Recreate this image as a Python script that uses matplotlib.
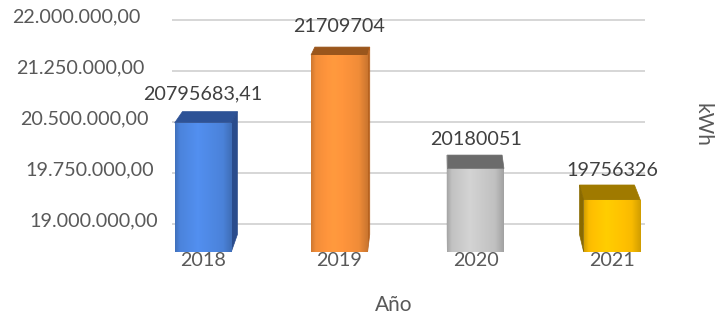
import numpy as np
import matplotlib
matplotlib.use("Agg")
import matplotlib.pyplot as plt
from matplotlib.patches import Polygon
from matplotlib.transforms import ScaledTranslation
from matplotlib.colors import to_rgb

plt.rcParams['font.family'] = ['Lato', 'DejaVu Sans']

# ---- data ----
years = ['2018', '2019', '2020', '2021']
consumo_kwh = [20795683.41, 21709704, 20180051, 19756326]
y_ticks = [19000000, 19750000, 20500000, 21250000, 22000000]

front_colors = ['#4D86E0', '#F7903A', '#C6C6C6', '#FFC000']
top_colors = ['#2D5296', '#9A561C', '#6B6B6B', '#A07A00']
side_colors = ['#2A4C8C', '#B8621E', '#808080', '#8A6A00']

W, H = 717, 321
fig = plt.figure(figsize=(W / 100, H / 100), dpi=100)
fig.patch.set_facecolor('white')


def box(l, t, r, b):
    return [l / W, 1 - b / H, (r - l) / W, (b - t) / H]


pos = box(172, 10, 645, 252)

# back wall: gridlines and value labels
ax_back = fig.add_axes(pos)
ax_back.set_ylim(18.588e6, 22.147e6)
ax_back.set_xlim(0, 1)
for s in ax_back.spines.values():
    s.set_visible(False)
ax_back.set_xticks([])
ax_back.set_yticks(y_ticks)
ax_back.tick_params(axis='y', length=0, labelleft=False)
ax_back.grid(axis='y', color='#D6D6D6', lw=1.4)


def fmt_es(v):
    s = f"{v:,.2f}"
    return s.replace(',', '_').replace('.', ',').replace('_', '.')


for v in y_ticks:
    right_px = 158 - 6 * (v - y_ticks[0]) / 1e6
    off = ScaledTranslation((right_px - 172) / 100, 3 / 100, fig.dpi_scale_trans)
    ax_back.text(0, v, fmt_es(v), transform=ax_back.get_yaxis_transform() + off,
                 ha='right', va='center', fontsize=14.2, color='#595959')

# front plane: the columns
ax = fig.add_axes(pos)
ax.set_facecolor('none')
for s in ax.spines.values():
    s.set_visible(False)
x = np.arange(len(years))
bar_w = 0.415
ax.set_xlim(-0.227, 3.242)
ylo, yhi = 19.055e6, 22.3165e6
ax.set_ylim(ylo, yhi)
ax.set_yticks([])
ax.set_xticks(x)
ax.set_xticklabels(years, fontsize=14.2, color='#595959')
ax.tick_params(axis='x', length=0, pad=0)

bars = ax.bar(x, consumo_kwh, width=bar_w, color=front_colors, zorder=3)

# soft horizontal shading on each front face
prof_x = np.linspace(0, 1, 64)
shade = np.interp(prof_x, [0, 0.08, 0.4, 0.85, 1], [0.84, 0.98, 1.07, 0.97, 0.82])
for b, c in zip(bars, front_colors):
    rgb = np.array(to_rgb(c))
    img = np.clip(shade[None, :, None] * rgb[None, None, :], 0, 1)
    x0 = b.get_x()
    im = ax.imshow(img, extent=(x0, x0 + b.get_width(), ylo, b.get_height()),
                   aspect='auto', zorder=3.2, interpolation='bilinear')
    im.set_clip_path(b)
ax.set_xlim(-0.227, 3.242)
ax.set_ylim(ylo, yhi)

# perspective faces (top and visible side) of each column
fx, fy = 0.0293, 0.0483
vx, vy = 441, H + 110
T = ax.transData
Tinv = T.inverted()
floor_y = T.transform((0, ylo))[1]


def back(p):
    return np.array([p[0] + fx * (vx - p[0]), p[1] + fy * (vy - p[1])])


for xi, v, ct, cs in zip(x, consumo_kwh, top_colors, side_colors):
    FL = T.transform((xi - bar_w / 2, v))
    FR = T.transform((xi + bar_w / 2, v))
    top = [FL, FR, back(FR), back(FL)]
    ax.add_patch(Polygon(Tinv.transform(top), closed=True, facecolor=ct,
                         edgecolor=ct, lw=0.5, zorder=2.5))
    if back(FR)[0] > FR[0]:
        Fb = np.array([FR[0], floor_y])
        side = [FR, back(FR), back(Fb), Fb]
    else:
        Fb = np.array([FL[0], floor_y])
        side = [FL, back(FL), back(Fb), Fb]
    ax.add_patch(Polygon(Tinv.transform(side), closed=True, facecolor=cs,
                         edgecolor=cs, lw=0.5, zorder=2.5))

# value labels
for xi, v in zip(x, consumo_kwh):
    txt = f"{v:.2f}".replace('.', ',') if v % 1 else f"{v:.0f}"
    ax.annotate(txt, (xi, v), xytext=(0, 29 * 0.72), textcoords='offset points',
                ha='center', va='center', fontsize=14.2, color='#404040', zorder=5)

fig.text(394 / W, 1 - 305 / H, 'Año', ha='center', va='center', fontsize=15, color='#595959')
fig.text(702 / W, 1 - 125 / H, 'kWh', rotation=270, ha='center', va='center',
         fontsize=15, color='#595959')

fig.savefig('out.png', dpi=100, facecolor='white')
